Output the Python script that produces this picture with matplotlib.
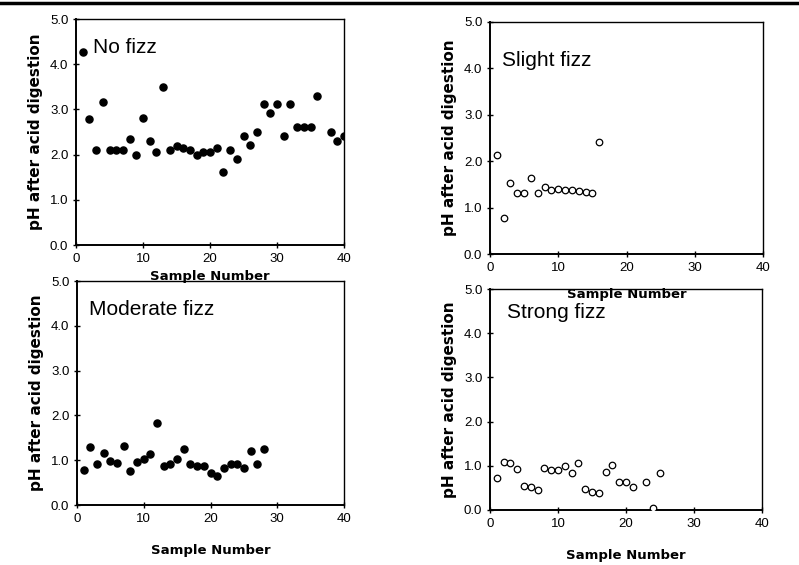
import numpy as np
import matplotlib
matplotlib.use("Agg")
import matplotlib.pyplot as plt
from matplotlib.lines import Line2D

plt.rcParams['font.family'] = ['Liberation Sans', 'DejaVu Sans']

# No fizz
no_x = [1, 2, 3, 4, 5, 6, 7, 8, 9, 10, 11, 12, 13, 14, 15, 16, 17, 18, 19, 20,
        21, 22, 23, 24, 25, 26, 27, 28, 29, 30, 31, 32, 33, 34, 35, 36, 38, 39, 40]
no_y = [4.28, 2.78, 2.1, 3.17, 2.1, 2.1, 2.1, 2.34, 1.99, 2.8, 2.31, 2.05, 3.5, 2.1,
        2.2, 2.15, 2.1, 2.0, 2.05, 2.05, 2.15, 1.61, 2.1, 1.9, 2.41, 2.21, 2.49,
        3.11, 2.91, 3.11, 2.42, 3.11, 2.6, 2.6, 2.6, 3.3, 2.49, 2.31, 2.41]

# Slight fizz
slight_x = list(range(1, 17))
slight_y = [2.13, 0.77, 1.52, 1.32, 1.32, 1.63, 1.32, 1.45, 1.38, 1.41, 1.38,
            1.38, 1.36, 1.34, 1.32, 2.42]

# Moderate fizz
mod_x = list(range(1, 29))
mod_y = [0.79, 1.3, 0.91, 1.15, 0.99, 0.93, 1.31, 0.77, 0.97, 1.03, 1.14, 1.84,
         0.86, 0.92, 1.03, 1.26, 0.92, 0.88, 0.88, 0.72, 0.65, 0.82, 0.92, 0.92,
         0.82, 1.21, 0.92, 1.26]

# Strong fizz
strong_x = [1, 2, 3, 4, 5, 6, 7, 8, 9, 10, 11, 12, 13, 14, 15, 16, 17, 18, 19,
            20, 21, 23, 24, 25]
strong_y = [0.73, 1.09, 1.06, 0.92, 0.54, 0.53, 0.45, 0.94, 0.91, 0.91, 1.0, 0.83,
            1.06, 0.47, 0.4, 0.38, 0.85, 1.02, 0.63, 0.63, 0.51, 0.63, 0.04, 0.83]

W, H = 799, 565
fig = plt.figure(figsize=(W / 100, H / 100), dpi=100)

def make_ax(left, right, top, bottom):
    ax = fig.add_axes([left / W, 1 - bottom / H, (right - left) / W, (bottom - top) / H])
    ax.patch.set_alpha(0)  # let the upper panel's x label show through
    return ax

panels = [
    (make_ax(76, 344, 19, 245), no_x, no_y, True, "No fizz", 2.5, 4.38, 4),
    (make_ax(490, 763, 22, 254), slight_x, slight_y, False, "Slight fizz", 1.8, 4.16, 10),
    (make_ax(77, 344, 281, 505), mod_x, mod_y, True, "Moderate fizz", 1.8, 4.37, 14),
    (make_ax(490, 762, 289, 510), strong_x, strong_y, False, "Strong fizz", 2.5, 4.46, 14),
]

for ax, xs, ys, filled, label, tx, ty, lpad in panels:
    if filled:
        ax.scatter(xs, ys, s=26, c='black', zorder=3)
    else:
        ax.scatter(xs, ys, s=22, facecolors='white', edgecolors='black',
                   linewidths=0.9, zorder=3)
    ax.set_xlim(0, 40)
    ax.set_ylim(0, 5)
    ax.set_xticks([0, 10, 20, 30, 40])
    ax.set_yticks([0, 1, 2, 3, 4, 5])
    ax.set_yticklabels(["0.0", "1.0", "2.0", "3.0", "4.0", "5.0"])
    ax.tick_params(direction='inout', length=5, width=1, labelsize=9.5, pad=3)
    for sp in ax.spines.values():
        sp.set_linewidth(1.0)
    ax.spines['left'].set_linewidth(1.4)
    ax.spines['bottom'].set_linewidth(1.4)
    ax.set_ylabel("pH after acid digestion", fontsize=11, fontweight='bold',
                  family='DejaVu Sans', labelpad=5)
    ax.set_xlabel("Sample Number", fontsize=9.5, fontweight='bold',
                  family='DejaVu Sans', labelpad=lpad)
    ax.text(tx, ty, label, fontsize=15, ha='left', va='center')

# horizontal rule across the top of the page
fig.add_artist(Line2D([0, 1], [1 - 3 / H, 1 - 3 / H], color='black', lw=2.5,
                      transform=fig.transFigure))

fig.savefig("out.png", dpi=100)
